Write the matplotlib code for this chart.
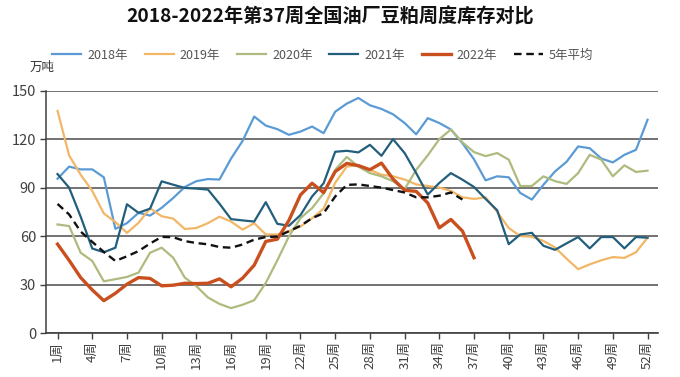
import matplotlib
matplotlib.use("Agg")
import matplotlib.pyplot as plt

plt.rcParams['font.family'] = ['Noto Sans CJK SC', 'DejaVu Sans']

title = "2018-2022年第37周全国油厂豆粕周度库存对比"
unit_label = "万吨"

weeks = list(range(1, 53))
tick_weeks = list(range(1, 53, 3))
tick_labels = [f"{w}周" for w in tick_weeks]
y_ticks = [0, 30, 60, 90, 120, 150]

s2018 = [95.5, 103, 101.3, 101.3, 96.4, 64.5, 68, 74.4, 72.7, 77.5, 83.6, 90.4, 94,
         95.3, 95, 108, 119, 134, 128.4, 126.2, 122.7, 124.7, 127.8, 123.7, 137, 142,
         145.5, 141, 138.7, 135.4, 130, 123, 133, 130, 126, 117.5, 107.5, 94.5, 97,
         96.4, 86.7, 82.6, 91.8, 100, 106, 115.5, 114.4, 108, 105.6, 110.3, 113.4, 132]
s2019 = [137.5, 110, 98, 88, 74, 68.7, 62, 68.2, 77.2, 72.3, 70.8, 64.4, 65,
         68, 72, 69, 64, 68, 61, 61, 63, 66, 71, 77, 93, 103,
         104, 101, 98, 97, 95, 92, 91, 90, 88, 84, 83, 84, 75,
         65, 60, 59.6, 57, 53, 46, 39.5, 42.5, 45, 47, 46.5, 50, 59]
s2020 = [67.2, 66.2, 49.7, 44.6, 32, 33.3, 34.7, 37.4, 49.7, 52.8, 46.6, 34.3, 29,
         22, 18, 15.4, 17.5, 20.3, 31, 45, 59.8, 71.1, 77.3, 86.5, 101, 109,
         103, 99, 97, 94, 89, 101, 110, 120, 126, 118, 112, 109.5, 111.4,
         107.3, 91, 91, 97, 94, 92.3, 99, 110.3, 107.3, 97, 103.8, 99.7, 100.5]
s2021 = [98.4, 90, 72, 52.3, 50, 52.8, 79.7, 74.4, 77, 93.9, 91.8, 89.8, 89.4,
         88.8, 80, 70.5, 69.7, 69, 81, 67.6, 66.4, 73, 84.5, 92.7, 112.2, 112.8,
         111.8, 116.5, 109.7, 120, 111.4, 99, 85.7, 92.9, 99, 94.9, 90.4, 83, 76,
         55, 61, 62, 54, 51.5, 55.5, 59.4, 52.4, 59.4, 59.4, 52.4, 59.4, 59]
s2022 = [55, 45, 34.3, 26.7, 20, 24.6, 30.2, 34.3, 33.8, 29.2, 29.6, 30.8, 30.6,
         30.8, 33.5, 28.6, 34, 42, 56.7, 58.1, 69.7, 85.5, 92.7, 86.9, 99.9, 105,
         103.6, 101.1, 105.2, 95.3, 88.4, 87.7, 80.5, 65.1, 70.3, 63.1, 46.6]
avg5 = [79.9, 73.4, 62.8, 56.4, 50.2, 44.6, 47.5, 50.7, 55.4, 59.5, 59.3, 56.9, 55.7,
        54.9, 53.2, 52.8, 54.8, 57.8, 59.4, 59.7, 63, 66.4, 71.1, 74.2, 84.5, 91.7,
        92, 91, 90, 88.5, 87, 84, 84, 85, 87, 82.6]

series = [
    ("2018年", s2018, "#5b9bd5", 1.6, "-"),
    ("2019年", s2019, "#f2b766", 1.6, "-"),
    ("2020年", s2020, "#aebb7e", 1.6, "-"),
    ("2021年", s2021, "#235f7c", 1.6, "-"),
    ("2022年", s2022, "#c9501e", 2.4, "-"),
    ("5年平均", avg5, "#111111", 1.7, "--"),
]

fig = plt.figure(figsize=(6.8, 3.77), dpi=100)
ax = fig.add_axes([0.0676, 0.1167, 0.9, 0.6427])

for name, vals, color, lw, ls in series:
    x = weeks[:len(vals)]
    kw = dict(color=color, lw=lw, label=name, solid_joinstyle="round")
    if ls == "--":
        ax.plot(x, vals, linestyle=(0, (3.2, 2.0)), **kw)
    else:
        ax.plot(x, vals, **kw)

ax.set_xlim(0, 52.9)
ax.set_ylim(0, 150)
ax.set_yticks(y_ticks)
ax.set_yticklabels([str(v) for v in y_ticks], fontsize=10.5, color="#404040")
ax.set_xticks(tick_weeks)
ax.set_xticklabels(tick_labels, rotation=90, fontsize=9.5, color="#404040")
ax.grid(axis="y", color="#5a5a5a", lw=1.2)
ax.set_axisbelow(True)
for s in ["top", "right"]:
    ax.spines[s].set_visible(False)
ax.spines["left"].set_color("#404040")
ax.spines["bottom"].set_color("#404040")
ax.spines["left"].set_linewidth(1.1)
ax.spines["bottom"].set_linewidth(1.2)
ax.tick_params(axis="x", length=4, width=1, color="#404040", pad=2)
ax.tick_params(axis="y", length=4, width=1, color="#404040", pad=3)

fig.text(0.485, 0.955, title, ha="center", va="center", fontsize=13.8,
         fontweight="bold", color="#111111")
fig.text(0.044, 0.82, unit_label, ha="left", va="center", fontsize=9, color="#333333")

leg = ax.legend(loc="center", bbox_to_anchor=(0.475, 0.854), bbox_transform=fig.transFigure,
                ncol=6, frameon=False, fontsize=9, handlelength=2.3, handletextpad=0.5,
                columnspacing=1.35, labelcolor="#555555")

fig.savefig("out.png", dpi=100)
